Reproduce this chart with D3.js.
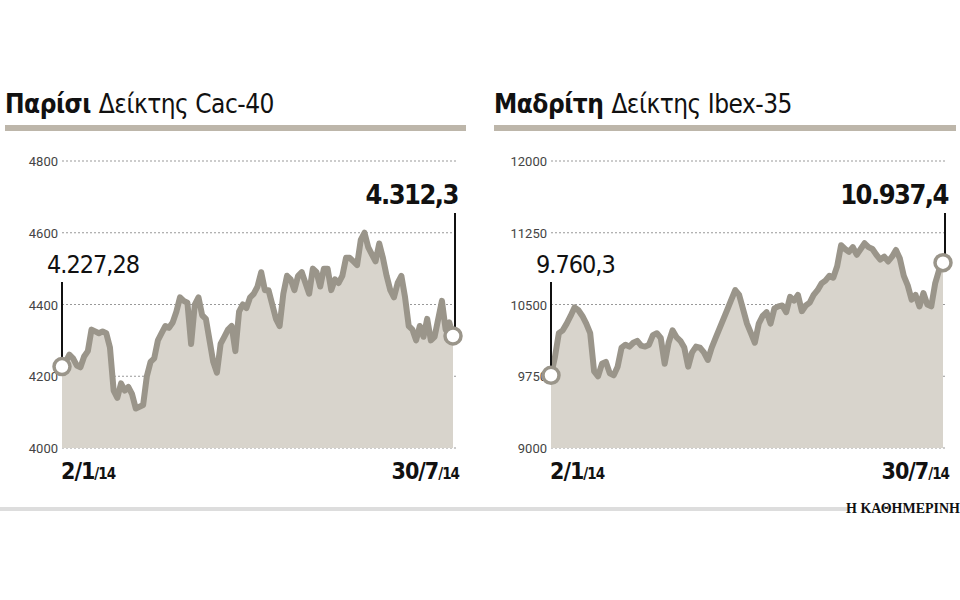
<!DOCTYPE html>
<html><head><meta charset="utf-8">
<script src="https://cdn.jsdelivr.net/npm/d3@7"></script>
<style>body{margin:0;background:#fff}</style>
</head><body>
<svg id="c" width="960" height="600"></svg>
<script>
var cacValues = [4227,4240,4260,4250,4230,4225,4255,4270,4330,4325,4320,4325,4320,4280,4160,4140,4180,4160,4170,4150,4110,4115,4120,4200,4240,4250,4300,4320,4340,4335,4350,4380,4420,4410,4405,4290,4400,4420,4370,4360,4300,4240,4210,4290,4310,4330,4340,4270,4380,4400,4390,4420,4430,4450,4490,4440,4440,4400,4360,4340,4430,4480,4470,4440,4480,4490,4460,4430,4500,4490,4450,4500,4500,4440,4470,4460,4480,4530,4530,4520,4510,4580,4600,4560,4540,4520,4570,4530,4480,4440,4420,4460,4480,4420,4340,4330,4300,4340,4310,4360,4300,4310,4360,4410,4330,4350,4312.3]
var ibexValues = [9760,9950,10200,10230,10300,10380,10470,10440,10380,10300,10200,9800,9750,9880,9900,9780,9760,9850,10050,10080,10060,10100,10120,10070,10060,10080,10180,10200,10150,9880,10100,10230,10160,10120,10050,9850,10000,10060,10050,10000,9920,10050,10150,10250,10350,10450,10550,10650,10600,10450,10300,10200,10100,10300,10380,10420,10300,10460,10480,10490,10420,10580,10540,10600,10430,10490,10520,10600,10650,10720,10750,10800,10780,10900,11120,11080,11050,11100,11020,11080,11140,11100,11080,11020,10970,11000,10950,11000,11070,10980,10800,10700,10550,10600,10480,10620,10500,10480,10720,10860,10937.4]
var cacTicks = [4000,4200,4400,4600,4800]
var ibexTicks = [9000,9750,10500,11250,12000]

var svg = d3.select('#c')
var font = '"Liberation Sans Narrow","DejaVu Sans Condensed",sans-serif'

function panel(x0, x1, city, index, values, ticks, startLabel, endLabel) {
	var g = svg.append('g')
	var x = d3.scaleLinear().domain([0, values.length - 1]).range([x0, x1])
	var y = d3.scaleLinear().domain([ticks[0], ticks[ticks.length - 1]]).range([448, 161])

	// title
	var t = g.append('text').attr('x', x0 - 57).attr('y', 113)
		.attr('font-family', font).attr('font-size', 26).attr('fill', '#111')
	t.append('tspan').attr('font-weight', 'bold').attr('letter-spacing', -0.5).text(city)
	t.append('tspan').attr('dx', 8).attr('font-weight', 300).attr('letter-spacing', -0.5).text(index)
	g.append('rect').attr('x', x0 - 57).attr('y', 125).attr('width', x1 - x0 + 70)
		.attr('height', 6).attr('fill', '#bdb6aa')

	// grid
	ticks.forEach(function (v) {
		g.append('line').attr('x1', x0).attr('x2', x1 + 3).attr('y1', y(v)).attr('y2', y(v))
			.attr('stroke', '#999').attr('stroke-dasharray', '2,2')
		g.append('text').attr('x', x0 - 4).attr('y', y(v) + 5).attr('text-anchor', 'end')
			.attr('font-family', 'Roboto,sans-serif').attr('font-size', 13).attr('fill', '#444').text(v)
	})

	var area = d3.area().x(function (d, i) { return x(i) }).y0(y(ticks[0])).y1(function (d) { return y(d) })
	var line = d3.line().x(function (d, i) { return x(i) }).y(function (d) { return y(d) })
	g.append('path').datum(values).attr('d', area).attr('fill', '#d8d4cc')
	g.append('path').datum(values).attr('d', line).attr('fill', 'none')
		.attr('stroke', '#9a958a').attr('stroke-width', 6).attr('stroke-linejoin', 'round')

	var first = values[0], last = values[values.length - 1]
	g.append('line').attr('x1', x(0)).attr('x2', x(0)).attr('y1', 282).attr('y2', y(first) - 8)
		.attr('stroke', '#111').attr('stroke-width', 2)
	g.append('line').attr('x1', x1 + 2).attr('x2', x1 + 2).attr('y1', 213).attr('y2', y(last) - 8)
		.attr('stroke', '#111').attr('stroke-width', 2)
	g.append('text').attr('x', x(0) - 15).attr('y', 273).attr('font-family', font)
		.attr('font-size', 25).attr('letter-spacing', -1).attr('fill', '#111').text(startLabel)
	g.append('text').attr('x', x1 + 5).attr('y', 204).attr('text-anchor', 'end').attr('font-family', font)
		.attr('font-weight', 'bold').attr('font-size', 27).attr('letter-spacing', -1.5).attr('fill', '#111').text(endLabel)
	;[[0, first], [values.length - 1, last]].forEach(function (p) {
		g.append('circle').attr('cx', x(p[0])).attr('cy', y(p[1])).attr('r', 8)
			.attr('fill', '#fff').attr('stroke', '#9a958a').attr('stroke-width', 3.5)
	})

	// date labels
	var d1 = g.append('text').attr('x', x0 - 1).attr('y', 479).attr('font-family', font)
		.attr('font-weight', 'bold').attr('font-size', 23).attr('letter-spacing', -1).attr('fill', '#111')
	d1.append('tspan').text('2/1')
	d1.append('tspan').attr('font-size', 15).text('/14')
	var d2 = g.append('text').attr('x', x1 + 6).attr('y', 479).attr('text-anchor', 'end').attr('font-family', font)
		.attr('font-weight', 'bold').attr('font-size', 23).attr('letter-spacing', -1).attr('fill', '#111')
	d2.append('tspan').text('30/7')
	d2.append('tspan').attr('font-size', 15).text('/14')
}

panel(62, 453, 'Παρίσι', 'Δείκτης Cac-40', cacValues, cacTicks, '4.227,28', '4.312,3')
panel(551, 943, 'Μαδρίτη', 'Δείκτης Ibex-35', ibexValues, ibexTicks, '9.760,3', '10.937,4')

svg.append('rect').attr('x', 0).attr('y', 507).attr('width', 848).attr('height', 4).attr('fill', '#ddd')
svg.append('text').attr('x', 960).attr('y', 513).attr('text-anchor', 'end')
	.attr('font-family', '"Liberation Serif",serif').attr('font-weight', 'bold').attr('font-size', 14)
	.attr('fill', '#111').text('Η ΚΑΘΗΜΕΡΙΝΗ')
</script>
</body></html>
